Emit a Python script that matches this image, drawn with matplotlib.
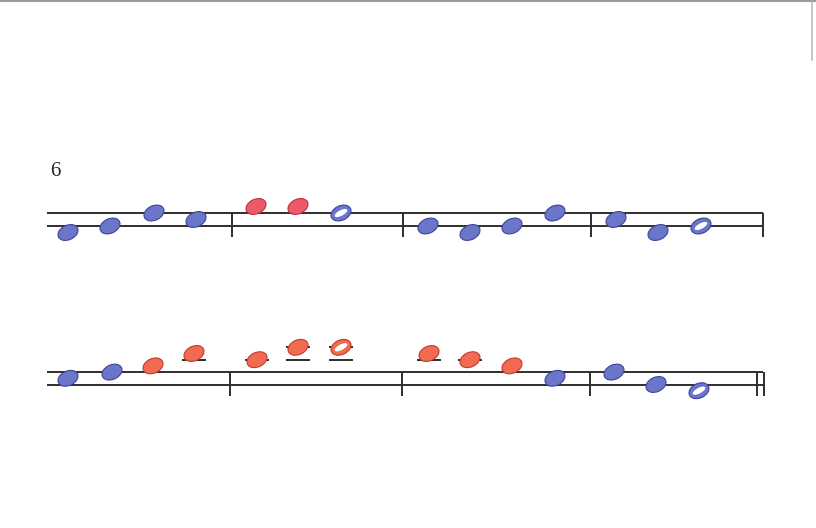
# coding: utf-8
"""Two-line colour staff, redrawn with matplotlib."""

import matplotlib
matplotlib.use("Agg")
import matplotlib.pyplot as plt
from matplotlib.patches import Ellipse

W, H = 816, 528

# note data: x (pixel column), staff position (0 = lower line, 2 = upper line),
# colour key, filled or hollow
row1_x = [68, 110, 154, 196, 256, 298, 341, 428, 470, 512, 555, 616, 658, 701]
row1_pos = [-1, 0, 2, 1, 3, 3, 2, 0, -1, 0, 2, 1, -1, 0]
row1_col = ["b", "b", "b", "b", "r", "r", "b", "b", "b", "b", "b", "b", "b", "b"]
row1_fill = [1, 1, 1, 1, 1, 1, 0, 1, 1, 1, 1, 1, 1, 0]
row1_bars = [232, 403, 591, 763]

row2_x = [68, 112, 153, 194, 257, 298, 341, 429, 470, 512, 555, 614, 656, 699]
row2_pos = [1, 2, 3, 5, 4, 6, 6, 5, 4, 3, 1, 2, 0, -1]
row2_col = ["b", "b", "o", "o", "o", "o", "o", "o", "o", "o", "b", "b", "b", "b"]
row2_fill = [1, 1, 1, 1, 1, 1, 0, 1, 1, 1, 1, 1, 1, 0]
row2_bars = [230, 402, 590, 757, 764]

COLORS = {"b": ("#6c76c9", "#3c4596"), "r": ("#ec5a68", "#b8323f"),
          "o": ("#f36a52", "#c03c2a")}
INK = "#2e2e2e"


def draw_row(ax, lower_y, step, xs, pos, cols, fills, bars):
    upper_y = lower_y - 2 * step
    for y in (lower_y, upper_y):
        ax.plot([47, 763], [y, y], color=INK, lw=1.4, solid_capstyle="butt")
    for bx in bars:
        ax.plot([bx, bx], [upper_y, lower_y + 11], color=INK, lw=1.4,
                solid_capstyle="butt")
    for x, p, c, f in zip(xs, pos, cols, fills):
        y = lower_y - p * step
        # ledger lines above the staff
        for lp in range(4, p + 1, 2):
            ly = lower_y - lp * step
            ax.plot([x - 12, x + 12], [ly, ly], color=INK, lw=1.4,
                    solid_capstyle="butt", zorder=2)
        face, edge = COLORS[c]
        # y axis is flipped, so a negative angle tilts the head up to the right
        ax.add_patch(Ellipse((x, y), 21, 14.5, angle=-25, facecolor=face,
                             edgecolor=edge, lw=0.8, zorder=3))
        if not f:
            ax.add_patch(Ellipse((x, y), 14, 5.5, angle=-28, facecolor="white",
                                 edgecolor="none", zorder=4))


fig = plt.figure(figsize=(W / 100, H / 100), dpi=100)
ax = fig.add_axes([0, 0, 1, 1])
ax.set_xlim(0, W)
ax.set_ylim(H, 0)
ax.axis("off")

# scanned page edges
ax.plot([0, W], [1, 1], color="#9a9a9a", lw=1.5)
ax.plot([812, 812], [2, 60], color="#bcbcbc", lw=1.2)

ax.text(50, 171, "6", fontsize=15, family="Liberation Serif",
        va="center", ha="left", color="#222222")

draw_row(ax, 226, 6.5, row1_x, row1_pos, row1_col, row1_fill, row1_bars)
draw_row(ax, 384.5, 6.2, row2_x, row2_pos, row2_col, row2_fill, row2_bars)

fig.savefig("out.png", dpi=100)
